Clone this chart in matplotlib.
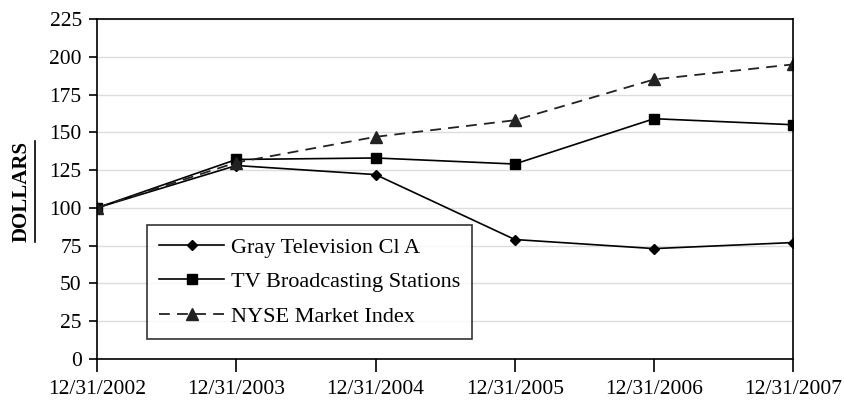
import matplotlib
matplotlib.use("Agg")
import matplotlib.pyplot as plt
from matplotlib.lines import Line2D

plt.rcParams['font.family'] = ['Liberation Serif', 'DejaVu Serif']

# ── Datos ─────────────────────────────────────────────────────────────────────
fechas = ["12/31/2002", "12/31/2003", "12/31/2004",
          "12/31/2005", "12/31/2006", "12/31/2007"]
gray_tv = [100, 128, 122, 79, 73, 77]
tv_broadcasting = [100, 132, 133, 129, 159, 155]
nyse_index = [100, 130, 147, 158, 185, 195]
y_ticks = [0, 25, 50, 75, 100, 125, 150, 175, 200, 225]

# ── Figura ────────────────────────────────────────────────────────────────────
fig = plt.figure(figsize=(8.44, 4.05), dpi=100)
ax = fig.add_axes([0.115, 0.114, 0.825, 0.839])

x = range(len(fechas))
ax.plot(x, gray_tv, color="black", lw=1.2, marker="D", ms=5.5,
        label="Gray Television Cl A")
ax.plot(x, tv_broadcasting, color="black", lw=1.2, marker="s", ms=7.5,
        label="TV Broadcasting Stations")
ax.plot(x, nyse_index, color="#222222", lw=1.3, ls=(0, (6, 4)), marker="^", ms=8,
        label="NYSE Market Index")

ax.set_xlim(0, len(fechas) - 1)
ax.set_ylim(0, 225)
ax.set_yticks(y_ticks)
ax.set_xticks(list(x))
ax.set_xticklabels(fechas)
ax.grid(axis="y", color="#dddddd", lw=1)
ax.set_axisbelow(True)

for s in ax.spines.values():
    s.set_color("black")
    s.set_linewidth(1.2)
ax.tick_params(axis="y", direction="out", length=6, width=1.2,
               labelsize=15.5, pad=5)
ax.tick_params(axis="x", direction="out", length=9, width=1.2,
               labelsize=15.5, pad=6)

leg = ax.legend(loc="lower left", bbox_to_anchor=(0.072, 0.059),
                fontsize=16, frameon=True, fancybox=False, edgecolor="black",
                handlelength=2.9, handletextpad=0.3, labelspacing=0.62,
                borderpad=0.55, borderaxespad=0)
leg.get_frame().set_linewidth(1.2)

# etiqueta del eje y, en negrita y subrayada
t = fig.text(0.026, 0.528, "DOLLARS", rotation=90, fontsize=15,
             fontweight="bold", ha="center", va="center")
fig.canvas.draw()
bb = t.get_window_extent().transformed(fig.transFigure.inverted())
fig.add_artist(Line2D([bb.x1 + 0.004, bb.x1 + 0.004], [bb.y0, bb.y1],
                      transform=fig.transFigure, color="black", lw=1.2))

fig.savefig("out.png", dpi=100)
